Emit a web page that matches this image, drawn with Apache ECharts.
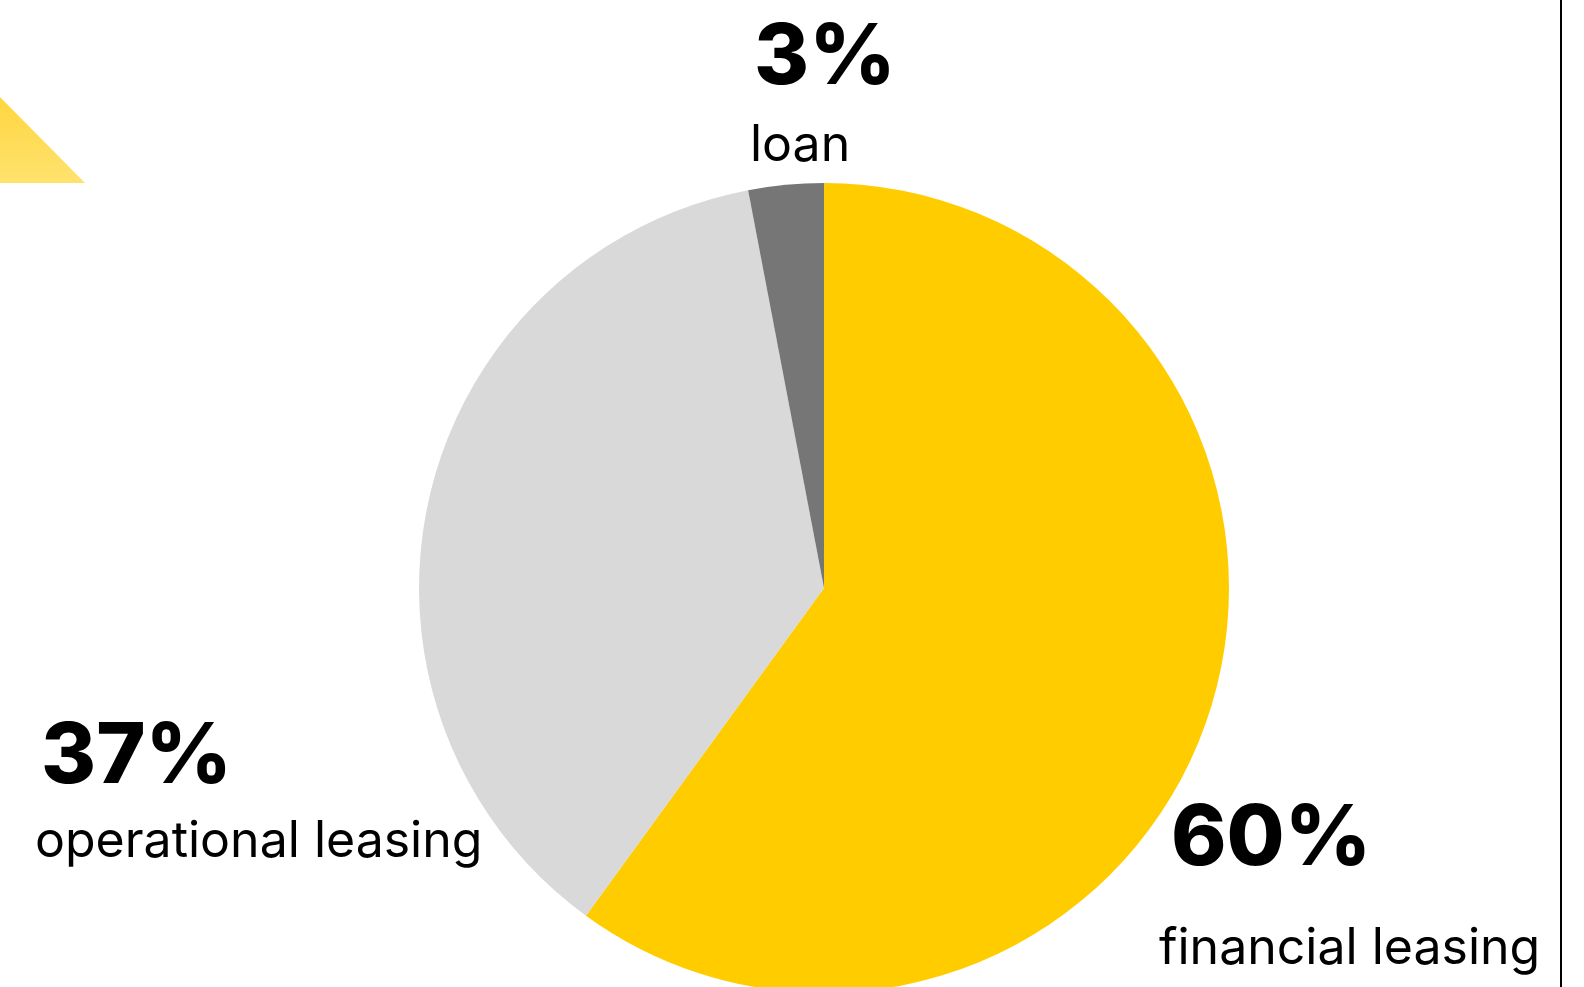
<!DOCTYPE html>
<html><head><meta charset="utf-8">
<script src="https://cdn.jsdelivr.net/npm/echarts@6/dist/echarts.min.js"></script>
<style>html,body{margin:0;padding:0;background:#fff}#c{width:1584px;height:987px}</style>
</head><body><div id="c"></div>
<script>
const categories = ['financial leasing', 'operational leasing', 'loan'];
const values = [60, 37, 3];
const colors = ['#FFCC00', '#D9D9D9', '#767676'];
// label anchor positions (layout, not data)
const pctPos = [[1171, 840], [41, 758], [754, 59]];
const namePos = [[1159, 949], [35, 842], [750, 146]];

const total = values.reduce((a, b) => a + b, 0);
const data = categories.map((c, i) => ({ name: c, value: values[i], itemStyle: { color: colors[i] } }));
const nameData = categories.map((c, i) => ({ name: c, value: values[i] }));

const chart = echarts.init(document.getElementById('c'), null, { renderer: 'canvas' });
const base = {
  type: 'pie', center: [824, 588], radius: 405, startAngle: 90, clockwise: true,
  animation: false, silent: true, labelLine: { show: false },
  itemStyle: { borderWidth: 0 }
};
chart.setOption({
  backgroundColor: '#ffffff',
  series: [
    Object.assign({}, base, {
      data: data,
      label: { show: true, position: 'inside', color: '#000', fontFamily: 'Inter', fontWeight: 800, fontSize: 84,
        overflow: 'none', formatter: p => Math.round(p.value / total * 100) + '%' },
      labelLayout: p => ({ x: pctPos[p.dataIndex][0], y: pctPos[p.dataIndex][1], align: 'left', verticalAlign: 'middle' })
    }),
    Object.assign({}, base, {
      data: nameData,
      itemStyle: { color: 'rgba(0,0,0,0)', borderWidth: 0 },
      label: { show: true, position: 'inside', color: '#000', fontFamily: 'Inter', fontWeight: 400, fontSize: 50,
        overflow: 'none', formatter: p => p.name },
      labelLayout: p => ({ x: namePos[p.dataIndex][0], y: namePos[p.dataIndex][1], align: 'left', verticalAlign: 'middle' })
    })
  ],
  graphic: [
    { type: 'polygon', shape: { points: [[0, 97], [85, 183], [0, 183]] },
      style: { fill: new echarts.graphic.LinearGradient(0, 0, 0, 1, [{ offset: 0, color: '#FFD640' }, { offset: 1, color: '#FFE26E' }]) } },
    { type: 'rect', shape: { x: 1560, y: 0, width: 2, height: 987 }, style: { fill: '#000' } }
  ]
});
</script></body></html>
